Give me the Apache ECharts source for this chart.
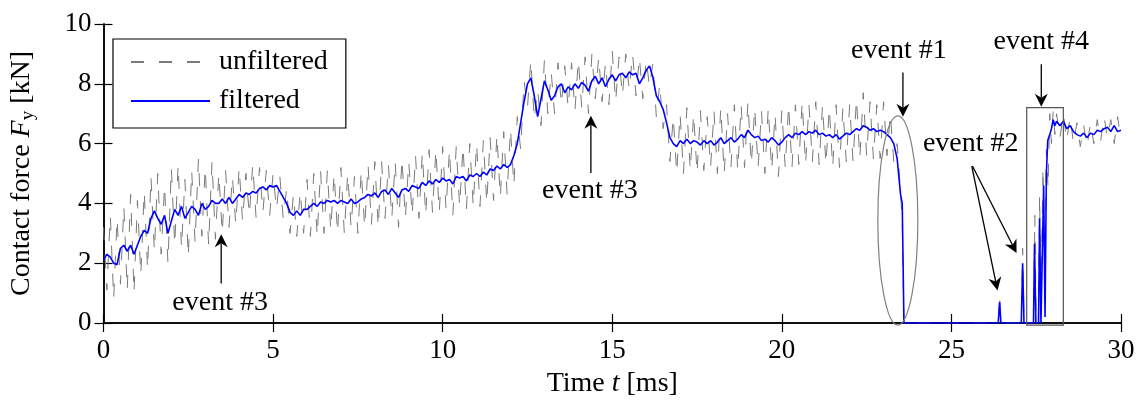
<!DOCTYPE html>
<html><head><meta charset="utf-8">
<script src="https://cdn.jsdelivr.net/npm/echarts@6/dist/echarts.min.js"></script>
<style>html,body{margin:0;padding:0;background:#fff}#c{width:1145px;height:403px}</style>
</head><body><div id="c"></div>
<script>
// sampling step (ms) of the gridded parts of both signals
const dt = 0.1;
const xTickInterval = 5;
const yTickInterval = 2;

// filtered signal, t = 0.0 .. 23.5 ms, step 0.1
const filteredMain = [
  2.1, 2.3, 2.2, 2.0, 1.95, 2.5, 2.6, 2.4, 2.6, 2.3,
  2.6, 2.9, 3.1, 3.0, 3.5, 3.75, 3.5, 3.3, 3.6, 3.0,
  3.4, 3.8, 3.6, 3.9, 3.5, 3.7, 3.9, 3.8, 3.6, 4.0,
  3.8, 3.9, 4.1, 4.0, 4.0, 4.15, 4.0, 4.2, 4.0, 4.15,
  4.3, 4.2, 4.35, 4.3, 4.4, 4.35, 4.5, 4.55, 4.45, 4.6,
  4.55, 4.6, 4.4, 4.2, 4.0, 3.7, 3.6, 3.75, 3.6, 3.8,
  3.8, 3.9, 4.0, 3.9, 4.05, 4.0, 4.1, 4.05, 4.1, 4.0,
  4.1, 4.05, 4.0, 4.15, 4.0, 4.05, 4.15, 4.2, 4.3, 4.25,
  4.35, 4.2, 4.4, 4.45, 4.3, 4.5, 4.35, 4.2, 4.45, 4.5,
  4.4, 4.6, 4.55, 4.5, 4.7, 4.6, 4.75, 4.65, 4.8, 4.7,
  4.85, 4.75, 4.8, 4.65, 4.9, 4.85, 4.9, 4.75, 4.95, 4.9,
  5.0, 4.9, 5.05, 4.95, 5.15, 5.1, 5.25, 5.15, 5.3, 5.2,
  5.3, 5.6, 6.0, 6.7, 7.4, 8.0, 8.2, 7.6, 6.9, 7.5,
  8.1, 7.8, 7.45, 7.6, 7.9, 8.0, 7.7, 7.9, 7.8, 8.0,
  7.85, 8.05, 7.95, 7.75, 8.1, 8.25, 8.0, 8.2, 7.9, 8.15,
  8.3, 8.1, 8.3, 8.35, 8.2, 8.4, 8.3, 8.35, 8.0, 8.2,
  8.45, 8.6, 8.2, 7.6, 7.4, 7.15, 6.7, 6.2, 6.0, 5.9,
  6.1, 6.0, 6.15, 6.0, 6.1, 6.05, 5.95, 6.1, 6.0, 6.1,
  5.95, 6.05, 6.2, 6.0, 6.1, 6.2, 6.05, 6.15, 6.3, 6.2,
  6.45, 6.3, 6.2, 6.25, 6.1, 6.15, 6.05, 6.2, 6.1, 5.95,
  6.05, 6.2, 6.3, 6.2, 6.35, 6.3, 6.4, 6.3, 6.4, 6.35,
  6.45, 6.3, 6.35, 6.25, 6.3, 6.2, 6.3, 6.15, 6.25, 6.35,
  6.3, 6.4, 6.5, 6.45, 6.6, 6.55, 6.45, 6.5, 6.4, 6.45,
  6.4, 6.3, 6.2, 6.0, 5.5, 4.3
];
// filtered signal around the loss-of-contact events, [t ms, F kN]
const filteredEvents = [
  [23.55, 4.0], [23.6, 0], [26.38, 0], [26.42, 0.7], [26.46, 0],
  [27.06, 0], [27.1, 2.0], [27.14, 0], [27.42, 0], [27.45, 2.65], [27.49, 0],
  [27.57, 0], [27.6, 3.5], [27.64, 0], [27.68, 0], [27.72, 4.6], [27.76, 0.2],
  [27.8, 5.0], [27.84, 6.1], [27.9, 6.3], [27.95, 6.5], [28.0, 6.8], [28.05, 6.6], [28.1, 6.75]
];
// filtered signal, t = 28.2 .. 30.0 ms, step 0.1
const filteredTail = [
  6.6, 6.75, 6.5, 6.6, 6.4, 6.3, 6.25, 6.35, 6.2, 6.35,
  6.3, 6.45, 6.4, 6.5, 6.55, 6.4, 6.6, 6.4, 6.45
];

// unfiltered signal, t = 0.0 .. 23.5 ms, step 0.1
const unfilteredMain = [
  3.2, 1.1, 3.6, 0.8, 3.5, 1.3, 3.9, 1.1, 4.3, 1.0,
  4.1, 1.6, 4.4, 1.8, 4.9, 2.4, 5.0, 2.3, 4.6, 2.0,
  5.2, 2.6, 5.3, 2.5, 4.8, 2.2, 5.1, 2.7, 5.5, 2.9,
  5.2, 2.6, 5.4, 2.8, 5.0, 3.0, 5.1, 3.2, 4.9, 3.3,
  5.2, 3.4, 5.0, 3.6, 5.3, 3.5, 5.2, 3.7, 5.1, 3.6,
  5.0, 3.8, 4.9, 3.5, 4.5, 3.0, 4.3, 2.9, 4.4, 3.0,
  4.8, 2.9, 5.0, 2.9, 5.1, 3.0, 5.1, 3.1, 5.0, 3.0,
  5.2, 3.0, 5.0, 3.2, 4.9, 3.0, 5.1, 3.2, 5.3, 3.3,
  5.4, 3.2, 5.4, 3.5, 5.3, 3.5, 5.4, 3.2, 5.5, 3.5,
  5.4, 3.6, 5.6, 3.5, 5.7, 3.6, 5.8, 3.7, 5.8, 3.7,
  5.9, 3.8, 5.8, 3.6, 5.9, 3.9, 5.9, 3.8, 6.0, 3.9,
  6.0, 3.9, 6.1, 4.0, 6.2, 4.1, 6.3, 4.2, 6.4, 4.3,
  6.5, 4.6, 6.9, 5.8, 8.1, 7.2, 8.8, 6.8, 7.8, 6.6,
  8.8, 7.0, 8.4, 7.0, 8.7, 7.3, 8.6, 7.2, 8.7, 7.1,
  8.8, 7.2, 8.9, 7.0, 9.0, 7.5, 8.9, 7.4, 8.7, 7.3,
  9.1, 7.4, 8.9, 7.6, 9.0, 7.8, 9.0, 7.6, 8.9, 7.5,
  8.8, 7.9, 8.7, 6.9, 8.0, 6.5, 7.3, 5.4, 6.9, 5.0,
  7.0, 5.0, 7.2, 5.1, 7.0, 5.0, 7.1, 5.1, 6.9, 5.2,
  7.1, 5.0, 7.2, 5.0, 7.0, 5.2, 7.3, 5.1, 7.3, 5.2,
  7.4, 5.3, 7.2, 5.2, 7.1, 5.0, 7.2, 5.1, 7.0, 4.9,
  7.1, 5.2, 7.3, 5.2, 7.3, 5.3, 7.4, 5.3, 7.3, 5.4,
  7.4, 5.3, 7.3, 5.3, 7.2, 5.2, 7.3, 5.2, 7.2, 5.4,
  7.3, 5.4, 7.5, 5.5, 7.7, 5.6, 7.4, 5.5, 7.3, 5.5,
  7.4, 5.6, 7.0, 5.4, 6.0, 4.4
];
const unfilteredEvents = [
  [23.55, 3.4], [23.6, 0], [26.38, 0], [26.42, 0.9], [26.46, 0],
  [27.06, 0], [27.1, 2.5], [27.14, 0], [27.42, 0], [27.46, 3.6], [27.5, 0],
  [27.56, 0], [27.6, 4.3], [27.64, 0.5], [27.7, 5.2], [27.75, 1.5], [27.8, 5.8],
  [27.85, 4.5], [27.9, 7.0], [27.95, 6.0], [28.0, 7.1], [28.05, 6.3], [28.1, 7.0]
];
const unfilteredTail = [
  6.2, 7.0, 6.1, 6.9, 6.0, 6.7, 5.9, 6.6, 5.9, 6.7,
  6.0, 6.8, 6.1, 6.9, 6.2, 6.8, 6.0, 6.9, 6.1
];

function grid(start, values) {
  return values.map((v, i) => [+(start + i * dt).toFixed(2), v]);
}
const filteredData = grid(0, filteredMain).concat(filteredEvents, grid(28.2, filteredTail));
const unfilteredData = grid(0, unfilteredMain).concat(unfilteredEvents, grid(28.2, unfilteredTail));

const FONT = '"Liberation Serif", "Times New Roman", serif';
const FS = 27;   // tick labels
const FT = 28;   // names, legend, annotations

const chart = echarts.init(document.getElementById('c'), null, {renderer: 'canvas'});
const axisLine = {show: true, lineStyle: {color: '#000', width: 1.5}};
const tick = {show: true, inside: true, length: 9, lineStyle: {color: '#000', width: 1.2}};
chart.setOption({
  animation: false,
  backgroundColor: '#fff',
  grid: {left: 100, right: 24, top: 24, bottom: 76, containLabel: false},
  legend: {
    left: 113, top: 39, orient: 'vertical',
    padding: [9, 18, 13, 17], itemGap: 11, itemWidth: 79, itemHeight: 14,
    borderColor: '#000', borderWidth: 1.2, backgroundColor: '#fff',
    itemStyle: {opacity: 0, borderWidth: 0},
    textStyle: {fontFamily: FONT, fontSize: FT, color: '#000', padding: [0, 0, 0, 4]},
    data: ['unfiltered', 'filtered']
  },
  xAxis: [{
    type: 'value', min: 0, max: 30, interval: xTickInterval, position: 'bottom',
    axisLine, axisTick: tick, splitLine: {show: false},
    axisLabel: {fontFamily: FONT, fontSize: FS, color: '#000', margin: 14},
    name: '{n|Time }{i|t}{n| [ms]}', nameLocation: 'middle', nameGap: 47,
    nameTextStyle: {rich: {
      n: {fontFamily: FONT, fontSize: FT, color: '#000'},
      i: {fontFamily: FONT, fontSize: FT, color: '#000', fontStyle: 'italic'}
    }}
  }, {
    type: 'value', min: 0, max: 30, interval: xTickInterval, position: 'top',
    axisLine, axisTick: tick, axisLabel: {show: false}, splitLine: {show: false}
  }],
  yAxis: [{
    type: 'value', min: 0, max: 10, interval: yTickInterval, position: 'left',
    axisLine, axisTick: tick, splitLine: {show: false},
    axisLabel: {fontFamily: FONT, fontSize: FS, color: '#000', margin: 12},
    name: '{n|Contact force }{i|F}{s|y}{n| [kN]}', nameLocation: 'middle', nameGap: 66, nameRotate: 90,
    nameTextStyle: {rich: {
      n: {fontFamily: FONT, fontSize: FT, color: '#000'},
      i: {fontFamily: FONT, fontSize: FT, color: '#000', fontStyle: 'italic'},
      s: {fontFamily: FONT, fontSize: 19, color: '#000', padding: [12, 0, 0, 0]}
    }}
  }, {
    type: 'value', min: 0, max: 10, interval: yTickInterval, position: 'right',
    axisLine, axisTick: tick, axisLabel: {show: false}, splitLine: {show: false}
  }],
  series: [{
    name: 'unfiltered', type: 'line', data: unfilteredData, symbol: 'none', showSymbol: false,
    lineStyle: {color: '#7a7a7a', width: 1, type: [13, 15]}, itemStyle: {color: '#7a7a7a'}, z: 2
  }, {
    name: 'filtered', type: 'line', data: filteredData, symbol: 'none', showSymbol: false,
    lineStyle: {color: '#0000ff', width: 1.6}, itemStyle: {color: '#0000ff'}, z: 3
  }]
});

// annotations, in data coordinates
const ellipse1 = {center: [23.42, 3.43], radius: [0.59, 3.5]};
const box4 = {from: [27.22, -0.07], to: [28.3, 7.2]};
const arrows = [
  [[23.57, 8.38], [23.57, 6.9]],
  [[27.65, 8.65], [27.65, 7.23]],
  [[3.47, 1.32], [3.47, 2.97]],
  [[14.37, 5.02], [14.37, 6.93]],
  [[25.6, 5.25], [26.36, 1.09]],
  [[25.62, 5.25], [26.92, 2.34]]
];
const labels = [
  ['event #1', [23.45, 9.11]],
  ['event #4', [27.65, 9.41]],
  ['event #2', [25.57, 6.0]],
  ['event #3', [3.44, 0.69]],
  ['event #3', [14.34, 4.42]]
];

const px = p => chart.convertToPixel({gridIndex: 0}, p);
const g = [];
{
  const c = px(ellipse1.center);
  const e = px([ellipse1.center[0] + ellipse1.radius[0], ellipse1.center[1] + ellipse1.radius[1]]);
  g.push({type: 'ellipse', z: 10, silent: true,
    shape: {cx: c[0], cy: c[1], rx: Math.abs(e[0] - c[0]), ry: Math.abs(e[1] - c[1])},
    style: {fill: 'none', stroke: '#808080', lineWidth: 1.2}});
  const a = px(box4.from), b = px(box4.to);
  g.push({type: 'rect', z: 10, silent: true,
    shape: {x: Math.min(a[0], b[0]), y: Math.min(a[1], b[1]), width: Math.abs(b[0] - a[0]), height: Math.abs(b[1] - a[1])},
    style: {fill: 'none', stroke: '#555', lineWidth: 1.2}});
}
arrows.forEach(([f, t]) => {
  const p1 = px(f), p2 = px(t);
  const dx = p2[0] - p1[0], dy = p2[1] - p1[1], L = Math.hypot(dx, dy);
  const ux = dx / L, uy = dy / L, nx = -uy, ny = ux;
  const HL = 13, HW = 6.5, N = 4;
  const back = [p2[0] - ux * HL, p2[1] - uy * HL];
  const notch = [p2[0] - ux * (HL - N), p2[1] - uy * (HL - N)];
  g.push({type: 'line', z: 20, silent: true,
    shape: {x1: p1[0], y1: p1[1], x2: notch[0], y2: notch[1]},
    style: {stroke: '#000', lineWidth: 1.3}});
  g.push({type: 'polygon', z: 20, silent: true,
    shape: {points: [p2, [back[0] + nx * HW, back[1] + ny * HW], notch, [back[0] - nx * HW, back[1] - ny * HW]]},
    style: {fill: '#000', stroke: 'none'}});
});
labels.forEach(([txt, p]) => {
  const q = px(p);
  g.push({type: 'text', z: 20, silent: true, x: q[0], y: q[1],
    style: {text: txt, fill: '#000', font: FT + 'px ' + FONT, textAlign: 'center', textVerticalAlign: 'middle'}});
});
chart.setOption({graphic: g});
</script>
</body></html>
